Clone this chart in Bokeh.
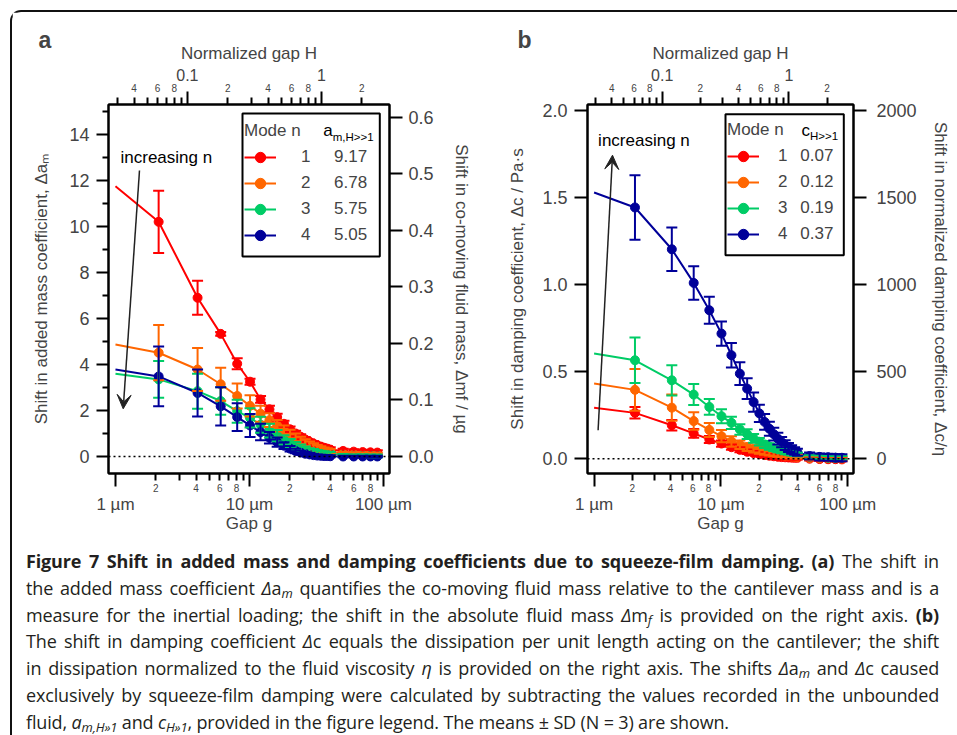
import math
from bokeh.plotting import figure
from bokeh.models import (Range1d, LinearAxis, LogAxis, FixedTicker, LogScale, Whisker, TeeHead,
                          ColumnDataSource, Legend, LegendItem, Label, Arrow, VeeHead, Span, Div,
                          PrintfTickFormatter, CustomJSTickFormatter, Title, BoxAnnotation)
from bokeh.layouts import row, column
from bokeh.embed import file_html
from bokeh.resources import INLINE

FONT = "Liberation Sans"

# ---------------- data ----------------
gap_um = [2.1, 4.1, 6.1, 8.1, 10.1, 12.1, 14.1, 16.1, 18.1, 20.1, 22.1, 24.1, 26.1, 28.1,
          30.1, 32.1, 34.1, 36.1, 38.1, 40.1, 50, 60, 70, 80, 90]
gap_start_um = 1.0
H_norm_um = 34.4          # H = g / 34.4 um

mode_n = ["1", "2", "3", "4"]
mode_colors = ["#ff0000", "#ff6600", "#00cc66", "#000099"]
am_unbounded = ["9.17", "6.78", "5.75", "5.05"]
c_unbounded = ["0.07", "0.12", "0.19", "0.37"]

# panel a: shift in added mass coefficient
da_start = [11.75, 4.87, 3.60, 3.78]
da_mode1 = [10.2, 6.9, 5.33, 4.03, 3.25, 2.48, 2.05, 1.71, 1.42, 1.18, 1.0, 0.86, 0.74, 0.64,
            0.56, 0.49, 0.43, 0.38, 0.34, 0.30, 0.24, 0.21, 0.19, 0.18, 0.17]
da_mode2 = [4.51, 3.78, 3.14, 2.63, 2.2, 1.86, 1.58, 1.34, 1.13, 0.96, 0.82, 0.70, 0.60, 0.51,
            0.44, 0.38, 0.33, 0.29, 0.26, 0.23, 0.12, 0.10, 0.09, 0.08, 0.08]
da_mode3 = [3.35, 2.84, 2.41, 1.97, 1.68, 1.38, 1.12, 0.90, 0.72, 0.58, 0.47, 0.38, 0.31, 0.26,
            0.22, 0.19, 0.17, 0.15, 0.14, 0.13, 0.05, 0.04, 0.04, 0.03, 0.03]
da_mode4 = [3.48, 2.76, 2.18, 1.71, 1.35, 1.06, 0.81, 0.62, 0.47, 0.34, 0.24, 0.17, 0.12, 0.09,
            0.06, 0.04, 0.03, 0.02, 0.02, 0.01, 0.0, 0.0, 0.0, 0.0, 0.0]
da_sd1 = [1.35, 0.74, 0.08, 0.24, 0.13, 0.15, 0.15, 0.15, 0.13, 0.12, 0.12, 0.11, 0.11, 0.1,
          0.1, 0.1, 0.1, 0.1, 0.1, 0.1, 0.1, 0.1, 0.1, 0.1, 0.1]
da_sd2 = [1.2, 0.93, 0.72, 0.54, 0.46, 0.35, 0.3, 0.25, 0.22, 0.2, 0.18, 0.16, 0.15, 0.14,
          0.13, 0.12, 0.11, 0.1, 0.1, 0.1, 0.08, 0.08, 0.08, 0.08, 0.08]
da_sd3 = [0.8, 0.76, 0.6, 0.5, 0.42, 0.35, 0.3, 0.25, 0.2, 0.18, 0.16, 0.14, 0.12, 0.1,
          0.1, 0.09, 0.08, 0.08, 0.07, 0.07, 0.06, 0.06, 0.06, 0.06, 0.06]
da_sd4 = [1.3, 1.02, 0.83, 0.6, 0.5, 0.36, 0.25, 0.2, 0.15, 0.12, 0.1, 0.08, 0.07, 0.06,
          0.05, 0.05, 0.04, 0.04, 0.04, 0.04, 0.03, 0.03, 0.03, 0.03, 0.03]

# panel b: shift in damping coefficient (Pa s)
dc_start = [0.292, 0.432, 0.604, 1.528]
dc_mode1 = [0.263, 0.192, 0.145, 0.110, 0.087, 0.066, 0.051, 0.040, 0.032, 0.026, 0.021, 0.017,
            0.014, 0.011, 0.009, 0.008, 0.007, 0.006, 0.005, 0.005, 0.0, -0.002, -0.003, -0.003, -0.004]
dc_mode2 = [0.395, 0.293, 0.216, 0.165, 0.129, 0.099, 0.080, 0.066, 0.055, 0.046, 0.039, 0.033,
            0.028, 0.024, 0.020, 0.017, 0.015, 0.013, 0.012, 0.011, 0.004, 0.003, 0.002, 0.002, 0.001]
dc_mode3 = [0.565, 0.45, 0.368, 0.297, 0.244, 0.206, 0.168, 0.141, 0.117, 0.097, 0.082, 0.070,
            0.060, 0.052, 0.045, 0.039, 0.034, 0.030, 0.027, 0.024, 0.010, 0.008, 0.006, 0.005, 0.005]
dc_mode4 = [1.442, 1.202, 1.009, 0.852, 0.718, 0.594, 0.488, 0.402, 0.325, 0.260, 0.211, 0.172,
            0.141, 0.115, 0.095, 0.078, 0.064, 0.053, 0.044, 0.037, 0.015, 0.010, 0.008, 0.006, 0.005]
dc_sd1 = [0.033, 0.03, 0.025, 0.02, 0.018, 0.015, 0.014, 0.013, 0.012, 0.011, 0.01, 0.01,
          0.01, 0.01, 0.01, 0.01, 0.01, 0.01, 0.01, 0.01, 0.01, 0.01, 0.01, 0.01, 0.01]
dc_sd2 = [0.12, 0.075, 0.05, 0.04, 0.035, 0.03, 0.025, 0.022, 0.02, 0.018, 0.016, 0.015,
          0.014, 0.013, 0.012, 0.011, 0.01, 0.01, 0.01, 0.01, 0.01, 0.01, 0.01, 0.01, 0.01]
dc_sd3 = [0.13, 0.087, 0.06, 0.045, 0.04, 0.035, 0.03, 0.028, 0.025, 0.022, 0.02, 0.018,
          0.016, 0.015, 0.014, 0.013, 0.012, 0.011, 0.01, 0.01, 0.01, 0.01, 0.01, 0.01, 0.01]
dc_sd4 = [0.185, 0.125, 0.096, 0.078, 0.07, 0.07, 0.065, 0.06, 0.055, 0.05, 0.045, 0.04,
          0.037, 0.034, 0.03, 0.028, 0.026, 0.024, 0.022, 0.02, 0.02, 0.02, 0.02, 0.02, 0.02]

# axis ticks / labels
g_major_ticks = [1, 10, 100]
g_major_labels = ["1 µm", "10 µm", "100 µm"]
g_minor_ticks = [2, 3, 4, 5, 6, 7, 8, 9, 20, 30, 40, 50, 60, 70, 80, 90]
g_small_ticks = [2, 4, 6, 8, 20, 40, 60, 80]
g_small_labels = ["2", "4", "6", "8", "2", "4", "6", "8"]
H_major_ticks = [0.1, 1]
H_major_labels = ["0.1", "1"]
H_minor_ticks = [0.03, 0.04, 0.05, 0.06, 0.07, 0.08, 0.09, 0.2, 0.3, 0.4, 0.5, 0.6, 0.7, 0.8, 0.9, 2]
H_small_ticks = [0.04, 0.06, 0.08, 0.2, 0.4, 0.6, 0.8, 2]
H_small_labels = ["4", "6", "8", "2", "4", "6", "8", "2"]

a_y_ticks = [0, 2, 4, 6, 8, 10, 12, 14]
a_y_minor = [1, 3, 5, 7, 9, 11, 13, 15]
a_y2_ticks = [0.0, 0.1, 0.2, 0.3, 0.4, 0.5, 0.6]
b_y_ticks = [0.0, 0.5, 1.0, 1.5, 2.0]
b_y2_ticks = [0, 500, 1000, 1500, 2000]

g_range = (0.887, 111.0)
a_y_range = (-0.74, 15.3)
a_mass_per_unit = 0.0407      # ug of fluid per unit of added-mass coefficient
b_y_range = (-0.085, 2.033)
b_eta_factor = 1000.0         # normalized by viscosity


def lookup_fmt(ticks, labels):
    return CustomJSTickFormatter(args=dict(t=ticks, l=labels), code="""
        for (let i = 0; i < t.length; i++) {
            if (Math.abs(t[i] - tick) <= 1e-9 * Math.max(1, Math.abs(tick))) return l[i];
        }
        return "";
    """)


def add_x_axes(p, side, rng, major, major_lab, minor, small, small_lab, title,
               big_size, small_standoff, title_standoff):
    kw = {"x_range_name": rng} if rng else {}
    t = LogAxis(ticker=FixedTicker(ticks=major, minor_ticks=minor), formatter=lookup_fmt([], []),
                major_tick_out=13, major_tick_in=0, minor_tick_out=7, minor_tick_in=0,
                major_tick_line_width=2, minor_tick_line_width=2, axis_line_width=2,
                major_label_text_font_size="1px", major_label_text_alpha=0,
                major_label_standoff=0, **kw)
    s = LogAxis(ticker=FixedTicker(ticks=small, minor_ticks=[]), formatter=lookup_fmt(small, small_lab),
                major_tick_out=0, major_tick_in=0, major_tick_line_color=None,
                minor_tick_line_color=None, axis_line_color=None,
                major_label_standoff=small_standoff, major_label_text_font_size="10px",
                major_label_text_font=FONT, **kw)
    b = LogAxis(ticker=FixedTicker(ticks=major, minor_ticks=[]), formatter=lookup_fmt(major, major_lab),
                major_tick_out=0, major_tick_in=0, major_tick_line_color=None,
                minor_tick_line_color=None, axis_line_color=None,
                major_label_standoff=0, major_label_text_font_size=big_size,
                major_label_text_font=FONT, axis_label=title, axis_label_standoff=title_standoff,
                axis_label_text_font=FONT, axis_label_text_font_size="17px",
                axis_label_text_font_style="normal", **kw)
    for a in (t, s, b):
        p.add_layout(a, side)


def y_axis(rng, ticks, minor, tick_out, standoff, fmt, label, label_standoff):
    kw = {"y_range_name": rng} if rng else {}
    ax = LinearAxis(ticker=FixedTicker(ticks=ticks, minor_ticks=minor), formatter=fmt,
                    major_tick_out=tick_out, major_tick_in=0, minor_tick_out=6, minor_tick_in=0,
                    major_tick_line_width=2, minor_tick_line_width=2, axis_line_width=2,
                    major_label_standoff=standoff, major_label_text_font=FONT,
                    major_label_text_font_size="18px",
                    axis_label=label, axis_label_standoff=label_standoff,
                    axis_label_text_font=FONT, axis_label_text_font_size="17px",
                    axis_label_text_font_style="normal", **kw)
    if not minor:
        ax.minor_tick_line_color = None
    return ax


def make_panel(letter, frame_w, left_border, right_border, y_rng, y2_rng, starts, series, sds,
               legend_vals, legend_loc, legend_gap, legend_label_w, glyph_label_standoff, box):
    p = figure(x_axis_type="log", x_range=Range1d(*g_range), y_range=Range1d(*y_rng),
               frame_width=frame_w, frame_height=369,
               min_border_left=left_border, min_border_right=right_border,
               min_border_top=92, min_border_bottom=70, title=None,
               x_axis_location=None, y_axis_location=None,
               output_backend="svg", toolbar_location=None,
               background_fill_color="white", border_fill_color="white",
               outline_line_color="black", outline_line_width=2)
    p.grid.visible = False
    p.extra_x_ranges = {"H": Range1d(g_range[0] / H_norm_um, g_range[1] / H_norm_um)}
    p.extra_x_scales = {"H": LogScale()}
    p.extra_y_ranges = {"r": Range1d(*y2_rng)}

    add_x_axes(p, "below", None, g_major_ticks, g_major_labels, g_minor_ticks,
               g_small_ticks, g_small_labels, "Gap g", "17px", -3, -3)
    add_x_axes(p, "above", "H", H_major_ticks, H_major_labels, H_minor_ticks,
               H_small_ticks, H_small_labels, "Normalized gap H", "16px", 0, 3)
    p.add_layout(Title(text=letter, align="left", offset=-70, text_font=FONT,
                       text_font_size="23px", text_font_style="bold", standoff=-25), "above")

    p.add_layout(Span(location=0, dimension="width", line_color="black",
                      line_dash="2 3", line_width=1.5))

    items = []
    for i in range(4):
        c = mode_colors[i]
        vals = series[i]
        sd = sds[i]
        src = ColumnDataSource(dict(g=gap_um, v=vals,
                                    up=[v + e for v, e in zip(vals, sd)],
                                    lo=[v - e for v, e in zip(vals, sd)]))
        w = Whisker(source=src, base="g", upper="up", lower="lo", dimension="height",
                    line_color=c, line_width=2,
                    upper_head=TeeHead(size=11, line_color=c, line_width=2),
                    lower_head=TeeHead(size=11, line_color=c, line_width=2))
        w.level = "glyph"
        p.add_layout(w)
        lr = p.line([gap_start_um] + gap_um, [starts[i]] + vals, line_color=c, line_width=2)
        sr = p.scatter("g", "v", source=src, size=9, fill_color=c, line_color=c)
        items.append(LegendItem(label=mode_n[i] + legend_gap + legend_vals[i], renderers=[lr, sr]))

    # legend frame (drawn separately for exact size)
    p.add_layout(BoxAnnotation(left=box[0], right=box[1], bottom=box[2], top=box[3],
                               left_units="screen", right_units="screen",
                               bottom_units="screen", top_units="screen",
                               fill_color="white", fill_alpha=1.0,
                               line_color="black", line_alpha=1.0, line_width=2))
    leg = Legend(items=items, location=legend_loc, title="Mode n",
                 title_text_font=FONT, title_text_font_size="17px", title_text_font_style="normal",
                 title_standoff=3, label_text_font=FONT, label_text_font_size="17px",
                 label_standoff=glyph_label_standoff, label_height=20, label_width=legend_label_w,
                 glyph_height=26, glyph_width=32, spacing=0, padding=8, margin=0,
                 border_line_color=None, background_fill_alpha=0.0)
    p.add_layout(leg)
    return p


# ---------------- panel a ----------------
pa = make_panel("a", 281, 96, 93, a_y_range,
                (a_y_range[0] * a_mass_per_unit, a_y_range[1] * a_mass_per_unit),
                da_start, [da_mode1, da_mode2, da_mode3, da_mode4],
                [da_sd1, da_sd2, da_sd3, da_sd4], am_unbounded, (136, 225),
                "\u00a0" * 5, 60, 25, (134, 271.3, 217, 360))
pa.add_layout(y_axis(None, a_y_ticks, a_y_minor, 12, 7, PrintfTickFormatter(format="%d"),
                     "Shift in added mass coefficient, Δaₘ", 15), "left")
pa.add_layout(y_axis("r", a_y2_ticks, [], 13, 6, PrintfTickFormatter(format="%.1f"),
                     "Shift in co-moving fluid mass, Δmf / µg", 15), "right")

# ---------------- panel b ----------------
pb = make_panel("b", 266, 105, 96, b_y_range,
                (b_y_range[0] * b_eta_factor, b_y_range[1] * b_eta_factor),
                dc_start, [dc_mode1, dc_mode2, dc_mode3, dc_mode4],
                [dc_sd1, dc_sd2, dc_sd3, dc_sd4], c_unbounded, (140, 226),
                "\u00a0\u00a0\u2009", 45, 19, (138, 256.3, 218.3, 359.3))
pb.add_layout(y_axis(None, b_y_ticks, [], 13, 7, PrintfTickFormatter(format="%.1f"),
                     "Shift in damping coefficient, Δc / Pa·s", 12), "left")
pb.add_layout(y_axis("r", b_y2_ticks, [], 13, 10, PrintfTickFormatter(format="%d"),
                     "Shift in normalized damping coefficient, Δc/η", 11), "right")


def lab(p, x, y, text, size="17px", angle=0.0, align="left", style="normal", baseline="middle"):
    lb = Label(x=x, y=y, x_units="screen", y_units="screen", text=text, angle=angle,
               text_font=FONT, text_font_size=size, text_font_style=style,
               text_align=align, text_baseline=baseline, text_color="black")
    p.add_layout(lb)


# legend headers
lab(pa, 214.7, 343, "a")
lab(pa, 224.2, 337, "m,H>>1", size="11.5px")
lab(pb, 214, 343.3, "c")
lab(pb, 222.5, 337.3, "H>>1", size="11.5px")

# "increasing n" annotations
lab(pa, 12, 316.3, "increasing n")
lab(pb, 10.6, 333.3, "increasing n")
pa.add_layout(Arrow(x_start=31, y_start=303, x_end=14.7, y_end=64.7,
                    start_units="screen", end_units="screen", line_width=1.5, line_color="#222222",
                    end=VeeHead(size=14, fill_color="#222222", line_color="#222222")))
pb.add_layout(Arrow(x_start=10.6, y_start=43.3, x_end=25, y_end=318.3,
                    start_units="screen", end_units="screen", line_width=1.5, line_color="#222222",
                    end=VeeHead(size=14, fill_color="#222222", line_color="#222222")))

# ---------------- caption ----------------
cap_lines = [
    '<b>Figure 7 Shift in added mass and damping coefficients due to squeeze-film damping. (a)</b> The shift in',
    'the added mass coefficient <i>Δ</i>a<sub><i>m</i></sub> quantifies the co-moving fluid mass relative to the cantilever mass and is a',
    'measure for the inertial loading; the shift in the absolute fluid mass <i>Δ</i>m<sub><i>f</i></sub> is provided on the right axis. <b>(b)</b>',
    'The shift in damping coefficient <i>Δ</i>c equals the dissipation per unit length acting on the cantilever; the shift',
    'in dissipation normalized to the fluid viscosity <i>η</i> is provided on the right axis. The shifts <i>Δ</i>a<sub><i>m</i></sub> and <i>Δ</i>c caused',
    'exclusively by squeeze-film damping were calculated by subtracting the values recorded in the unbounded',
    'fluid, <i>a<sub>m,H»1</sub></i> and <i>c<sub>H»1</sub></i>, provided in the figure legend. The means ± SD (N = 3) are shown.',
]
html_lines = []
for k, ln in enumerate(cap_lines):
    last = k == len(cap_lines) - 1
    al = "left" if last else "justify"
    html_lines.append(
        f'<div style="width:913px;white-space:nowrap;text-align:{al};text-align-last:{al};">{ln}</div>')
cap_html = ('<div style="font-family:\'Open Sans\',sans-serif;font-size:18px;line-height:26.8px;'
            'color:#231f20;padding:0 0 0 9px;letter-spacing:-0.15px;">'
            '<style>sub{font-size:0.72em;line-height:0;vertical-align:-0.25em;}</style>'
            + "".join(html_lines) + '</div>')
cap = Div(text=cap_html, width=937, height=188, styles={"overflow": "hidden"})

root = column(row(pa, pb), cap,
              styles={"border-top": "2px solid #111", "border-left": "2px solid #111",
                      "border-top-left-radius": "11px", "margin": "10px 0 0 10px"})

open("out.html", "w").write(file_html(root, INLINE))
